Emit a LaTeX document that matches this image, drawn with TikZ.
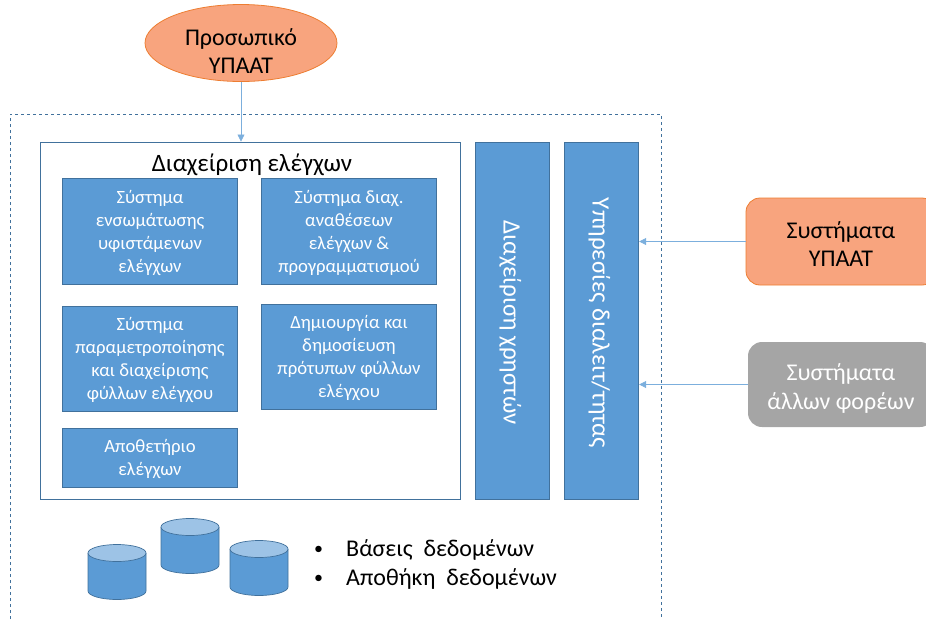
\documentclass[tikz,border=0pt]{standalone}
\usepackage{fontspec}
\setmainfont{Carlito}
\usetikzlibrary{shapes.geometric,arrows.meta}
\definecolor{accent}{HTML}{5B9BD5}
\definecolor{accentdark}{HTML}{41719C}
\definecolor{accentlight}{HTML}{9DC3E6}
\definecolor{peach}{HTML}{F8A47E}
\definecolor{peachdark}{HTML}{ED7D31}
\definecolor{midgray}{HTML}{A5A5A5}
\tikzset{
  lowertext/.style={execute at begin node={\rule{0pt}{#1}}},
  box/.style={draw=accentdark,fill=accent,line width=.8pt,text=white,inner sep=0pt,align=center,font=\fontsize{18.7}{23}\selectfont},
  tallbox/.style={box,minimum width=175pt,lowertext=86pt},
  vbox/.style={draw=accentdark,fill=accent,line width=.8pt,text=white,inner sep=0pt,align=center,rotate=-90,minimum width=357pt,minimum height=74.5pt,font=\fontsize{25}{30}\selectfont,execute at begin node={\rule{0pt}{22pt}\hspace*{5pt}}},
  sysbox/.style={rounded corners=14pt,inner sep=0pt,align=center,font=\fontsize{24}{28}\selectfont},
  flow/.style={draw=accent!80,line width=.7pt,-{Triangle[length=7pt,width=7pt]}},
  bullettext/.style={anchor=west,inner sep=0pt,font=\fontsize{24}{28}\selectfont},
  dbcyl/.pic={
    \draw [accentdark,line width=.7pt,fill=accent] (-29,-19) -- (-29,19) arc (180:0:29 and 8.5) -- (29,-19);
    \draw [accentdark,line width=.7pt,fill=accentlight] (0,-19) ellipse (29 and 8.5);
  },
}
\begin{document}
\begin{tikzpicture}[x=1pt,y=-1pt]
    \useasboundingbox (0,0) rectangle (926,619);
    % outer frame
    \draw [accentdark,dashed,line width=.8pt] (10,619) -- (10,114) -- (661,114) -- (661,619);
    \node[draw=accentdark,line width=.9pt,minimum width=420pt,minimum height=357pt,inner sep=0pt] (control) at (250,320.5) {};
    \node[inner sep=0pt,font=\fontsize{25}{30}\selectfont] (controltitle) at (252,165) {Διαχείριση ελέγχων};
    \node[tallbox,minimum height=106pt] (integration) at (150,231) {Σύστημα\\ενσωμάτωσης\\υφιστάμενων\\ελέγχων};
    \node[tallbox,minimum height=106pt] (assignment) at (349,231) {Σύστημα διαχ.\\αναθέσεων\\ελέγχων \&\\προγραμματισμού};
    \node[tallbox,minimum height=105pt] (parameters) at (150,358.5) {Σύστημα\\παραμετροποίησης\\και διαχείρισης\\φύλλων ελέγχου};
    \node[tallbox,minimum height=105pt] (templates) at (349,356.5) {Δημιουργία και\\δημοσίευση\\πρότυπων φύλλων\\ελέγχου};
    \node[box,minimum width=175pt,minimum height=59pt,lowertext=40pt] (repository) at (150,457.5) {Αποθετήριο\\ελέγχων};
    \node[vbox] (users) at (512.5,320.5) {Διαχείριση χρηστών};
    \node[vbox] (services) at (601.5,320.5) {Υπηρεσίες διαλειτ/τητας};
    % actors
    \node[ellipse,draw=peachdark,fill=peach,line width=.8pt,minimum width=192pt,minimum height=77pt,inner sep=0pt] (staff) at (241,43) {};
    \node[inner sep=0pt,align=center,font=\fontsize{24}{28}\selectfont] (stafftext) at (241,51) {Προσωπικό\\ΥΠΑΑΤ};
    \node[sysbox,draw=peachdark,fill=peach,line width=.8pt,minimum width=190pt,minimum height=87pt,lowertext=50pt] (ministry) at (841,241.5) {Συστήματα\\ΥΠΑΑΤ};
    \node[sysbox,fill=midgray,text=white,minimum width=186pt,minimum height=85pt,lowertext=53pt] (others) at (841,384.5) {Συστήματα\\[1pt]άλλων φορέων};
    \draw [flow] (staff) -- (staff |- control.north);
    \draw [flow] (ministry.west) -- (services.north |- ministry.west);
    \draw [flow] (others.west) -- (services.north |- others.west);
    % storage
    \pic at (117,572) {dbcyl};
    \pic at (190,546) {dbcyl};
    \pic at (259,568) {dbcyl};
    \node[bullettext] (bases) at (346,550) {Βάσεις\ \ δεδομένων};
    \node[bullettext] (store) at (346,579) {Αποθήκη\ \ δεδομένων};
    \node[bullettext,font=\fontsize{18}{20}\selectfont] (bulletone) at (314,550) {•};
    \node[bullettext,font=\fontsize{18}{20}\selectfont] (bullettwo) at (314,579) {•};
  \end{tikzpicture}
\end{document}
